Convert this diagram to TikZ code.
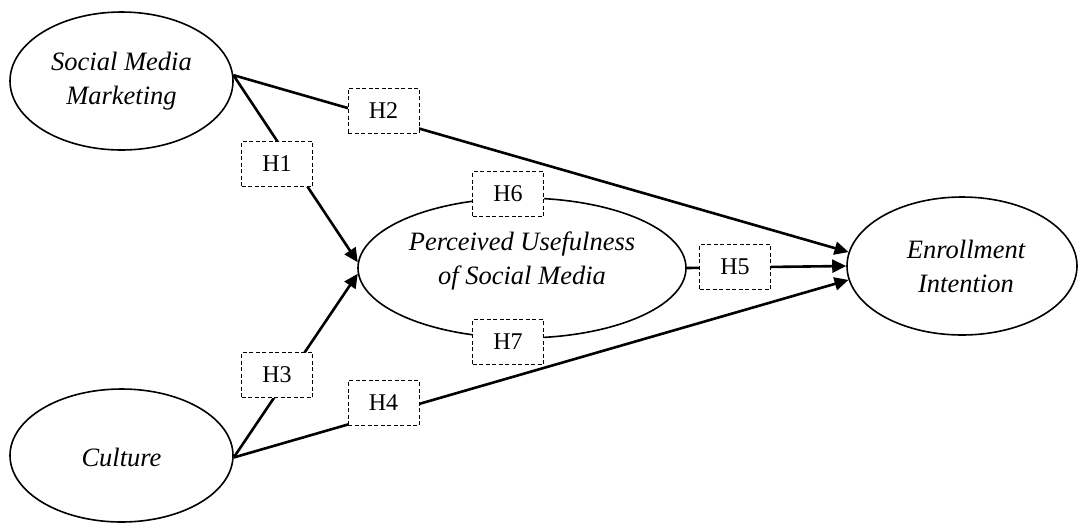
\documentclass[tikz,border=0pt]{standalone}
\usepackage{fontspec}
\setmainfont{Liberation Serif}
\usetikzlibrary{shapes.geometric,arrows.meta}
\begin{document}
\begin{tikzpicture}[x=1pt,y=-1pt,
  construct/.style={ellipse,draw,line width=1.6pt,inner sep=0pt},
  lbl/.style={font=\fontsize{26.5}{34}\selectfont\itshape,align=center,inner sep=0pt},
  hyp/.style={draw,dash pattern=on 4pt off 2.5pt,line width=1pt,fill=white,minimum width=71pt,minimum height=45pt,inner sep=0pt,font=\fontsize{24}{28}\selectfont},
  connarr/.style={line width=2.6pt,-{Triangle[length=14pt,width=13pt]}}]
\useasboundingbox (0,0) rectangle (1079,523);
% constructs
\node[construct,minimum width=223pt,minimum height=138pt] (smm) at (121.5,81) {};
\node[lbl] (smmt) at (121.5,81) {Social Media\\Marketing};
\node[construct,minimum width=223pt,minimum height=133pt] (cul) at (121.5,455.5) {};
\node[lbl] (cult) at (121.5,457) {Culture};
\node[construct,minimum width=328pt,minimum height=140pt] (pu) at (522,268) {};
\node[lbl] (put) at (522,261) {Perceived Usefulness\\of Social Media};
\node[construct,minimum width=230pt,minimum height=138pt] (ei) at (962,266) {};
\node[lbl] (eit) at (966,266.5) {Enrollment\\Intention};
% connectors
\draw[connarr] (smm.3) -- (pu.178);
\draw[connarr] (smm.3) -- (ei.173);
\draw[connarr] (cul.-1) -- (pu.182);
\draw[connarr] (cul.-1) -- (ei.187);
\draw[connarr] (pu.0) -- (ei.180);
% hypothesis labels
\node[hyp] (h1) at (277,164) {H1};
\node[hyp] (h2) at (383.5,110.5) {H2};
\node[hyp] (h3) at (277,375) {H3};
\node[hyp] (h4) at (383.5,403) {H4};
\node[hyp] (h5) at (735,267) {H5};
\node[hyp] (h6) at (508,194) {H6};
\node[hyp] (h7) at (508,342) {H7};
\end{tikzpicture}
\end{document}
